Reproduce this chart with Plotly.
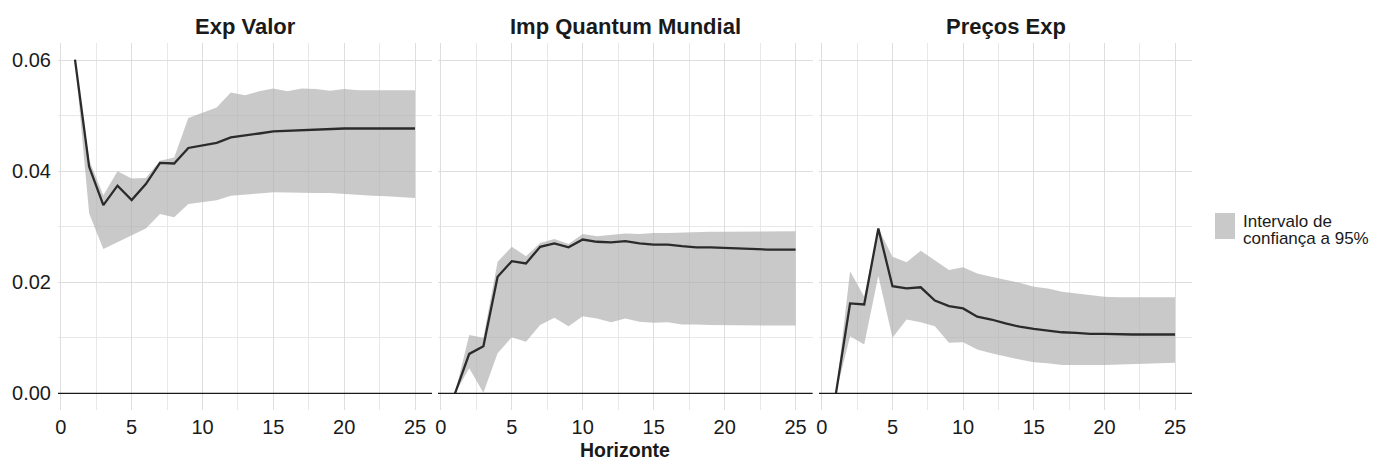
import plotly.graph_objects as go
from plotly.subplots import make_subplots

horizonte = list(range(1, 26))

panels = ["Exp Valor", "Imp Quantum Mundial", "Preços Exp"]

exp_valor_irf = [0.0601, 0.0408, 0.0339, 0.0374, 0.0348, 0.0377, 0.0415, 0.0414, 0.0442, 0.0446,
                 0.0451, 0.0461, 0.0464, 0.0468, 0.0472, 0.0473, 0.0475, 0.0476, 0.0476, 0.0477,
                 0.0477, 0.0477, 0.0477, 0.0477, 0.0477]
exp_valor_upper = [0.0601, 0.0420, 0.0357, 0.0400, 0.0387, 0.0388, 0.0419, 0.0425, 0.0496, 0.0505,
                   0.0515, 0.0542, 0.0537, 0.0544, 0.0549, 0.0544, 0.0549, 0.0548, 0.0545, 0.0548,
                   0.0546, 0.0546, 0.0546, 0.0546, 0.0546]
exp_valor_lower = [0.0601, 0.0324, 0.0260, 0.0273, 0.0285, 0.0297, 0.0323, 0.0317, 0.0341, 0.0345,
                   0.0348, 0.0356, 0.0358, 0.0360, 0.0362, 0.0362, 0.0361, 0.0361, 0.0361, 0.0360,
                   0.0358, 0.0356, 0.0355, 0.0354, 0.0352]

imp_quantum_irf = [0.0000, 0.0071, 0.0085, 0.0210, 0.0238, 0.0234, 0.0264, 0.0270, 0.0263, 0.0277,
                   0.0273, 0.0272, 0.0274, 0.0270, 0.0268, 0.0268, 0.0265, 0.0263, 0.0263, 0.0262,
                   0.0260, 0.0260, 0.0259, 0.0259, 0.0259]
imp_quantum_upper = [0.0000, 0.0105, 0.0100, 0.0237, 0.0264, 0.0247, 0.0271, 0.0278, 0.0269, 0.0287,
                     0.0283, 0.0286, 0.0288, 0.0287, 0.0289, 0.0289, 0.0290, 0.0291, 0.0291, 0.0291,
                     0.0291, 0.0291, 0.0292, 0.0292, 0.0292]
imp_quantum_lower = [0.0000, 0.0045, 0.0001, 0.0072, 0.0101, 0.0093, 0.0123, 0.0136, 0.0121, 0.0139,
                     0.0135, 0.0128, 0.0135, 0.0129, 0.0127, 0.0128, 0.0124, 0.0124, 0.0123, 0.0122,
                     0.0122, 0.0122, 0.0122, 0.0122, 0.0122]

precos_irf = [0.0000, 0.0162, 0.0160, 0.0297, 0.0193, 0.0189, 0.0191, 0.0167, 0.0157, 0.0153,
              0.0138, 0.0133, 0.0126, 0.0120, 0.0116, 0.0113, 0.0110, 0.0109, 0.0107, 0.0107,
              0.0106, 0.0106, 0.0106, 0.0106, 0.0106]
precos_upper = [0.0000, 0.0220, 0.0174, 0.0297, 0.0246, 0.0236, 0.0257, 0.0240, 0.0222, 0.0227,
                0.0216, 0.0210, 0.0205, 0.0199, 0.0192, 0.0189, 0.0183, 0.0180, 0.0177, 0.0174,
                0.0173, 0.0173, 0.0173, 0.0173, 0.0173]
precos_lower = [0.0000, 0.0103, 0.0088, 0.0212, 0.0100, 0.0133, 0.0128, 0.0121, 0.0091, 0.0092,
                0.0079, 0.0072, 0.0066, 0.0061, 0.0056, 0.0054, 0.0051, 0.0051, 0.0051, 0.0051,
                0.0052, 0.0053, 0.0053, 0.0054, 0.0055]

x_ticks = [0, 5, 10, 15, 20, 25]
y_ticks = [0.00, 0.02, 0.04, 0.06]
y_tick_labels = ["0.00", "0.02", "0.04", "0.06"]
legend_lines = ["Intervalo de", "confiança a 95%"]
x_title = "Horizonte"

series = [
    (exp_valor_irf, exp_valor_upper, exp_valor_lower),
    (imp_quantum_irf, imp_quantum_upper, imp_quantum_lower),
    (precos_irf, precos_upper, precos_lower),
]

RIBBON = "rgba(175,175,175,0.68)"
FONT = "Liberation Sans, Arial, sans-serif"
TXT = "#1a1a1a"

fig = make_subplots(rows=1, cols=3, shared_yaxes=True, horizontal_spacing=0.0053)

for i, (irf, up, lo) in enumerate(series):
    col = i + 1
    fig.add_trace(go.Scatter(
        x=horizonte + horizonte[::-1], y=up + lo[::-1],
        fill="toself", fillcolor=RIBBON, line=dict(width=0),
        mode="lines", showlegend=False, hoverinfo="skip"), row=1, col=col)
    fig.add_hline(y=0, line=dict(color="#1a1a1a", width=1.2), row=1, col=col)
    fig.add_trace(go.Scatter(
        x=horizonte, y=irf, mode="lines",
        line=dict(color="#2b2b2b", width=2.3), showlegend=False), row=1, col=col)

# panel placement
W = 1134.0   # plot-area width in px
H = 367.0    # plot-area height in px
TOP = 43
doms = [(0, 374 / W), (380 / W, 754.6 / W), (761 / W, 1.0)]
for i in range(3):
    ax = "xaxis" if i == 0 else f"xaxis{i+1}"
    fig.layout[ax].update(
        domain=list(doms[i]), range=[-0.2, 26.2], tickvals=x_ticks,
        showgrid=True, gridcolor="#DEDEDE", gridwidth=1.1,
        minor=dict(tickvals=[2.5, 7.5, 12.5, 17.5, 22.5], showgrid=True,
                   gridcolor="#E8E8E8", gridwidth=0.6),
        zeroline=False, showline=False, ticks="", ticklabelstandoff=3,
        tickfont=dict(size=20, color=TXT, family=FONT))
    ay = "yaxis" if i == 0 else f"yaxis{i+1}"
    fig.layout[ay].update(
        range=[-0.003, 0.0631], tickvals=y_ticks, ticktext=y_tick_labels,
        showgrid=True, gridcolor="#DEDEDE", gridwidth=1.1,
        minor=dict(tickvals=[0.01, 0.03, 0.05], showgrid=True,
                   gridcolor="#E8E8E8", gridwidth=0.6),
        zeroline=False, showline=False, ticks="",
        showticklabels=(i == 0), ticklabelstandoff=6,
        tickfont=dict(size=20, color=TXT, family=FONT))

def py(pix):
    return (TOP + H - pix) / H

annotations = []
for i, name in enumerate(panels):
    annotations.append(dict(
        text=f"<b>{name}</b>", x=(doms[i][0] + doms[i][1]) / 2, y=1.0,
        xref="paper", yref="paper", xanchor="center", yanchor="bottom",
        yshift=2, showarrow=False, font=dict(size=22, color=TXT, family=FONT)))
annotations.append(dict(
    text=f"<b>{x_title}</b>", x=0.5, y=0, xref="paper", yref="paper",
    xanchor="center", yanchor="top", yshift=-27, showarrow=False,
    font=dict(size=19.5, color=TXT, family=FONT)))
for k, line in enumerate(legend_lines):
    annotations.append(dict(
        text=line, x=(1241 - 58) / W, y=py(221.5 + 16.5 * k), xref="paper", yref="paper",
        xanchor="left", yanchor="middle", align="left", showarrow=False,
        font=dict(size=17, color=TXT, family=FONT)))

shapes = [dict(type="rect", xref="paper", yref="paper",
               x0=(1215 - 58) / W, x1=(1235 - 58) / W,
               y0=py(239), y1=py(213),
               fillcolor=RIBBON, line=dict(width=0))]

fig.update_layout(
    width=1380, height=460,
    margin=dict(l=58, r=188, t=TOP, b=460 - TOP - int(H)),
    plot_bgcolor="white", paper_bgcolor="white",
    font=dict(family=FONT, color=TXT),
    showlegend=False,
)
fig.layout.annotations = list(fig.layout.annotations) + annotations
fig.layout.shapes = list(fig.layout.shapes) + shapes

fig.write_html("out.html")
